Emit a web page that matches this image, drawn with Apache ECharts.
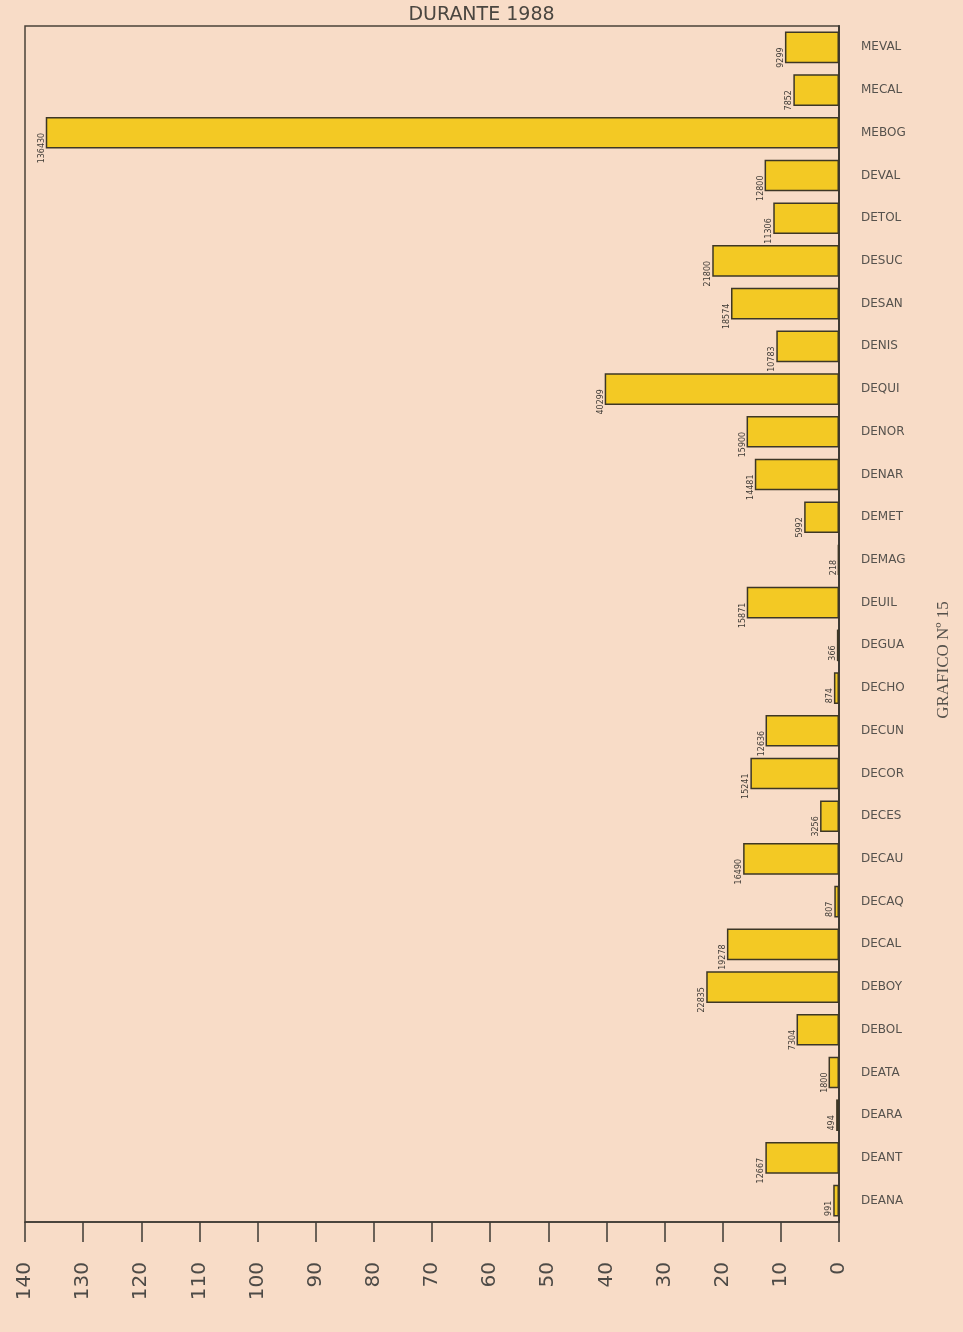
<!DOCTYPE html>
<html>
<head>
<meta charset="utf-8">
<script src="https://cdn.jsdelivr.net/npm/echarts@6/dist/echarts.min.js"></script>
<style>
body { margin: 0; background: #f8dcc7; }
#Chart { width: 963px; height: 1332px; }
</style>
</head>
<body>
<div id="Chart"></div>
<script>
// categorias de abajo hacia arriba
var Categories = ['DEANA', 'DEANT', 'DEARA', 'DEATA', 'DEBOL', 'DEBOY', 'DECAL', 'DECAQ',
    'DECAU', 'DECES', 'DECOR', 'DECUN', 'DECHO', 'DEGUA', 'DEUIL', 'DEMAG', 'DEMET',
    'DENAR', 'DENOR', 'DEQUI', 'DENIS', 'DESAN', 'DESUC', 'DETOL', 'DEVAL', 'MEBOG',
    'MECAL', 'MEVAL'];
var Values = [991, 12667, 494, 1800, 7304, 22835, 19278, 807,
    16490, 3256, 15241, 12636, 874, 366, 15871, 218, 5992,
    14481, 15900, 40299, 10783, 18574, 21800, 11306, 12800, 136430,
    7852, 9299];
// eje en miles
var TickLabels = ['0', '10', '20', '30', '40', '50', '60', '70', '80', '90', '100', '110', '120', '130', '140'];

var Chart = echarts.init(document.getElementById('Chart'));
Chart.setOption({
    backgroundColor: '#f8dcc7',
    animation: false,
    grid: {
        left: 25, right: 124, top: 26, bottom: 110,
        show: true, borderColor: '#4a4238', borderWidth: 1.5
    },
    xAxis: {
        type: 'value',
        inverse: true,
        min: 0, max: 140000, interval: 10000,
        position: 'bottom',
        splitLine: { show: false },
        axisLine: { show: true, lineStyle: { color: '#3e3a34', width: 1.5 } },
        axisTick: { show: true, inside: false, length: 20, lineStyle: { color: '#3e3a34', width: 1.5 } },
        axisLabel: {
            rotate: 90, margin: 40,
            fontFamily: 'DejaVu Sans', fontSize: 20, color: '#4d4a46',
            formatter: function (v) { return TickLabels[Math.round(v / 10000)]; }
        }
    },
    yAxis: {
        type: 'category',
        data: Categories,
        position: 'right',
        axisLine: { show: true, lineStyle: { color: '#3e3a34', width: 2 } },
        axisTick: { show: false },
        axisLabel: {
            margin: 22, align: 'left',
            fontFamily: 'DejaVu Sans', fontSize: 12, color: '#56524d'
        }
    },
    series: [{
        type: 'bar',
        data: Values,
        barCategoryGap: '26%',
        itemStyle: { color: '#f3c924', borderColor: '#3d3726', borderWidth: 1.5 },
        label: {
            show: true, position: 'left', rotate: 90, distance: 4,
            fontFamily: 'DejaVu Sans', fontSize: 8, color: '#3f3b36'
        }
    }],
    graphic: [
        {
            type: 'text', left: 'center', top: 6,
            style: { text: 'DURANTE 1988', fontFamily: 'DejaVu Sans', fontSize: 19, fill: '#4a4640' }
        },
        {
            type: 'text', x: 944, y: 660, rotation: Math.PI / 2,
            style: {
                text: 'GRAFICO Nº 15', fontFamily: 'Liberation Serif', fontSize: 17,
                fill: '#55514b', textAlign: 'center', textVerticalAlign: 'middle'
            }
        }
    ]
});
</script>
</body>
</html>
